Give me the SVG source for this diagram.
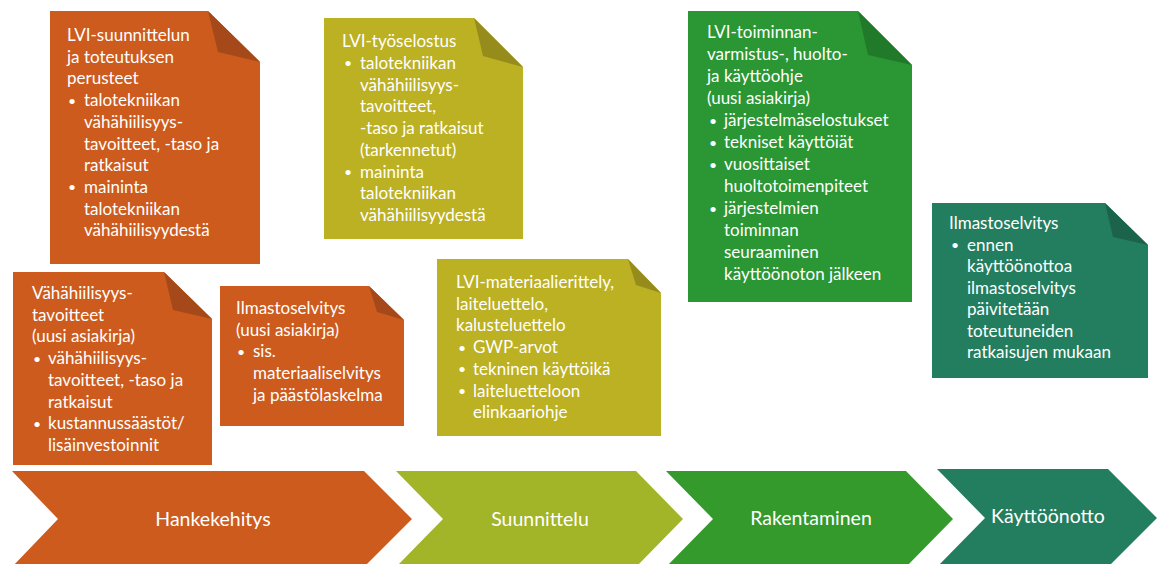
<svg xmlns="http://www.w3.org/2000/svg" width="1157" height="564" viewBox="0 0 1157 564">
<style>
text { font-family: Lato, "Liberation Sans", sans-serif; fill: #ffffff; }
.t { font-size: 17px; }
.b { font-size: 14px; }
.c { font-size: 19.5px; text-anchor: middle; }
.or { fill: #CD5B1D; }
.orf { fill: #A5491A; }
.ol { fill: #BCB023; }
.olf { fill: #968C1C; }
.gr { fill: #2A9634; }
.grf { fill: #207A29; }
.te { fill: #237E5F; }
.tef { fill: #1B644B; }
.ch2 { fill: #A2B427; }
.ch3 { fill: #349A2B; }
</style>
<rect width="1157" height="564" fill="#ffffff"/>

<g id="doc-lvi-suunnittelun">
<polygon class="or" points="50,11 208,11 260,62 260,264 50,264"/>
<polygon class="orf" points="208,11 218,52 260,62"/>
<text class="t"><tspan x="67" y="41">LVI-suunnittelun</tspan><tspan x="67" y="62.7">ja toteutuksen</tspan><tspan x="67" y="84.4">perusteet</tspan><tspan class="b" x="68" y="105.6">•</tspan><tspan x="84" y="106.1">talotekniikan</tspan><tspan x="84" y="127.8">vähähiilisyys-</tspan><tspan x="84" y="149.5">tavoitteet, -taso ja</tspan><tspan x="84" y="171.2">ratkaisut</tspan><tspan class="b" x="68" y="192.4">•</tspan><tspan x="84" y="192.9">maininta</tspan><tspan x="84" y="214.6">talotekniikan</tspan><tspan x="84" y="236.3">vähähiilisyydestä</tspan></text>
</g>

<g id="doc-vahahiilisyystavoitteet">
<polygon class="or" points="13,272 164,272 212,319 212,465 13,465"/>
<polygon class="orf" points="164,272 173,310 212,319"/>
<text class="t"><tspan x="32" y="299">Vähähiilisyys-</tspan><tspan x="32" y="320.7">tavoitteet</tspan><tspan x="32" y="342.4">(uusi asiakirja)</tspan><tspan class="b" x="33" y="363.6">•</tspan><tspan x="48" y="364.1">vähähiilisyys-</tspan><tspan x="48" y="385.8">tavoitteet, -taso ja</tspan><tspan x="48" y="407.5">ratkaisut</tspan><tspan class="b" x="33" y="428.7">•</tspan><tspan x="48" y="429.2">kustannussäästöt/</tspan><tspan x="48" y="450.9">lisäinvestoinnit</tspan></text>
</g>

<g id="doc-ilmastoselvitys-uusi">
<polygon class="or" points="220,286 369,286 404,320 404,426 220,426"/>
<polygon class="orf" points="369,286 377,312 404,320"/>
<text class="t"><tspan x="236" y="314">Ilmastoselvitys</tspan><tspan x="236" y="335.7">(uusi asiakirja)</tspan><tspan class="b" x="237" y="356.9">•</tspan><tspan x="253" y="357.4">sis.</tspan><tspan x="253" y="379.1">materiaaliselvitys</tspan><tspan x="253" y="400.8">ja päästölaskelma</tspan></text>
</g>

<g id="doc-lvi-tyoselostus">
<polygon class="ol" points="324,18 474,18 523,67 523,239 324,239"/>
<polygon class="olf" points="474,18 483,56 523,67"/>
<text class="t"><tspan x="342" y="47">LVI-työselostus</tspan><tspan class="b" x="344" y="68.25">•</tspan><tspan x="360" y="68.75">talotekniikan</tspan><tspan x="360" y="90.5">vähähiilisyys-</tspan><tspan x="360" y="112.25">tavoitteet,</tspan><tspan x="360" y="134">-taso ja ratkaisut</tspan><tspan x="360" y="155.75">(tarkennetut)</tspan><tspan class="b" x="344" y="177">•</tspan><tspan x="360" y="177.5">maininta</tspan><tspan x="360" y="199.25">talotekniikan</tspan><tspan x="360" y="221">vähähiilisyydestä</tspan></text>
</g>

<g id="doc-lvi-materiaalierittely">
<polygon class="ol" points="437,259 628,259 661,293 661,436 437,436"/>
<polygon class="olf" points="628,259 636,285 661,293"/>
<text class="t"><tspan x="456" y="288">LVI-materiaalierittely,</tspan><tspan x="456" y="309.7">laiteluettelo,</tspan><tspan x="456" y="331.4">kalusteluettelo</tspan><tspan class="b" x="458" y="352.6">•</tspan><tspan x="473" y="353.1">GWP-arvot</tspan><tspan class="b" x="458" y="374.3">•</tspan><tspan x="473" y="374.8">tekninen käyttöikä</tspan><tspan class="b" x="458" y="396">•</tspan><tspan x="473" y="396.5">laiteluetteloon</tspan><tspan x="473" y="418.2">elinkaariohje</tspan></text>
</g>

<g id="doc-lvi-toiminnanvarmistus">
<polygon class="gr" points="688,11 858,11 912,65 912,302 688,302"/>
<polygon class="grf" points="858,11 868,55 912,65"/>
<text class="t"><tspan x="707" y="38">LVI-toiminnan-</tspan><tspan x="707" y="60">varmistus-, huolto-</tspan><tspan x="707" y="82">ja käyttöohje</tspan><tspan x="707" y="104">(uusi asiakirja)</tspan><tspan class="b" x="709" y="125.5">•</tspan><tspan x="724" y="126">järjestelmäselostukset</tspan><tspan class="b" x="709" y="147.5">•</tspan><tspan x="724" y="148">tekniset käyttöiät</tspan><tspan class="b" x="709" y="169.5">•</tspan><tspan x="724" y="170">vuosittaiset</tspan><tspan x="724" y="192">huoltotoimenpiteet</tspan><tspan class="b" x="709" y="213.5">•</tspan><tspan x="724" y="214">järjestelmien</tspan><tspan x="724" y="236">toiminnan</tspan><tspan x="724" y="258">seuraaminen</tspan><tspan x="724" y="280">käyttöönoton jälkeen</tspan></text>
</g>

<g id="doc-ilmastoselvitys-paivitys">
<polygon class="te" points="932,203 1105,203 1148,245 1148,378 932,378"/>
<polygon class="tef" points="1105,203 1113,237 1148,245"/>
<text class="t"><tspan x="949" y="229">Ilmastoselvitys</tspan><tspan class="b" x="951" y="250">•</tspan><tspan x="967" y="250.5">ennen</tspan><tspan x="967" y="272">käyttöönottoa</tspan><tspan x="967" y="293.5">ilmastoselvitys</tspan><tspan x="967" y="315">päivitetään</tspan><tspan x="967" y="336.5">toteutuneiden</tspan><tspan x="967" y="358">ratkaisujen mukaan</tspan></text>
</g>

<g id="phase-hankekehitys">
<polygon class="or" points="12,471 364,471 412,519 364,567 12,567 58,519"/>
<text class="c" x="213" y="526">Hankekehitys</text>
</g>
<g id="phase-suunnittelu">
<polygon class="ch2" points="396,471 636,471 683,519 636,567 396,567 443,519"/>
<text class="c" x="540" y="526">Suunnittelu</text>
</g>
<g id="phase-rakentaminen">
<polygon class="ch3" points="666,471 906,471 953,519 906,567 666,567 713,519"/>
<text class="c" x="811" y="525">Rakentaminen</text>
</g>
<g id="phase-kayttoonotto">
<polygon class="te" points="937,469 1108,469 1157,518 1108,567 937,567 985,518"/>
<text class="c" x="1048" y="523">Käyttöönotto</text>
</g>
</svg>
